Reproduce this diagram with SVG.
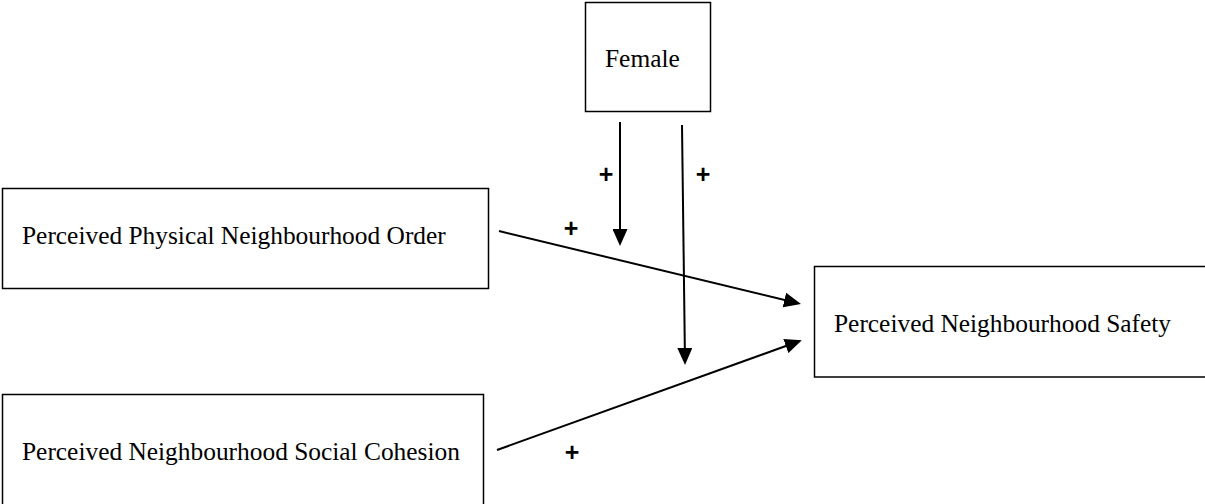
<svg xmlns="http://www.w3.org/2000/svg" width="1205" height="504" viewBox="0 0 1205 504">
  <defs>
    <style>
      .box { fill: #ffffff; stroke: #000000; stroke-width: 1.5; }
      .lbl { font-family: "Liberation Serif", "Times New Roman", serif; font-size: 25.4px; fill: #000000; }
      .plus { font-family: "Liberation Sans", Arial, sans-serif; font-size: 25px; font-weight: bold; fill: #000000; text-anchor: middle; }
      .conn { fill: none; stroke: #000000; stroke-width: 2; marker-end: url(#arrow); }
    </style>
    <marker id="arrow" markerUnits="userSpaceOnUse" markerWidth="17" markerHeight="15" refX="14" refY="7.5" orient="auto">
      <path d="M0,0 L17,7.5 L0,15 Z" fill="#000000"/>
    </marker>
  </defs>
  <rect width="1205" height="504" fill="#ffffff"/>

  <g id="node-female">
    <rect class="box" x="585.5" y="2.5" width="125" height="109"/>
    <text class="lbl" x="605" y="67">Female</text>
  </g>

  <g id="node-physical-order">
    <rect class="box" x="2.5" y="188.5" width="486" height="100"/>
    <text class="lbl" x="22" y="244">Perceived Physical Neighbourhood Order</text>
  </g>

  <g id="node-safety">
    <rect class="box" x="814.5" y="266.5" width="420" height="110.5"/>
    <text class="lbl" x="834" y="331.5">Perceived Neighbourhood Safety</text>
  </g>

  <g id="node-social-cohesion">
    <rect class="box" x="2.5" y="394.5" width="481" height="130"/>
    <text class="lbl" x="22" y="460">Perceived Neighbourhood Social Cohesion</text>
  </g>

  <g id="connectors">
    <line class="conn" x1="499" y1="231" x2="798" y2="303.3"/>
    <line class="conn" x1="497" y1="450" x2="799" y2="341.3"/>
    <line class="conn" x1="620" y1="122" x2="620" y2="243"/>
    <line class="conn" x1="682" y1="125" x2="685" y2="362"/>
  </g>

  <g id="labels">
    <text class="plus" x="606" y="183">+</text>
    <text class="plus" x="703" y="183">+</text>
    <text class="plus" x="571" y="236.5">+</text>
    <text class="plus" x="572" y="461">+</text>
  </g>
</svg>
